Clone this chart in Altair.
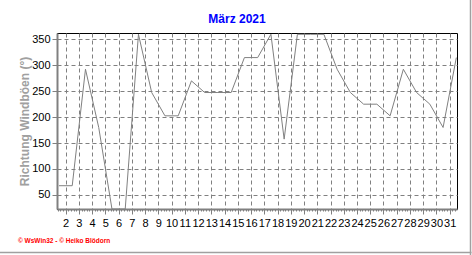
import altair as alt
import pandas as pd

# --- data ---
day_pos = [1.5, 2.5, 3.5, 4.5, 5.5, 6.5, 7.5, 8.5, 9.5, 10.5, 11.5, 12.5, 13.5, 14.5, 15.5,
           16.5, 17.5, 18.5, 19.5, 20.5, 21.5, 22.5, 23.5, 24.5, 25.5, 26.5, 27.5, 28.5,
           29.5, 30.5, 31.5]
direction = [67.5, 67.5, 292.5, 180, 22.5, 22.5, 360, 247.5, 202.5, 202.5, 270, 247.5, 247.5,
             247.5, 315, 315, 360, 157.5, 360, 360, 360, 292.5, 247.5, 225, 225, 202.5, 292.5,
             247.5, 225, 180, 315]
day_labels = [2, 3, 4, 5, 6, 7, 8, 9, 10, 11, 12, 13, 14, 15, 16, 17, 18, 19, 20, 21, 22, 23,
              24, 25, 26, 27, 28, 29, 30, 31]
y_labels = [50, 100, 150, 200, 250, 300, 350]

title_text = "März 2021"
y_title = "Richtung Windböen  (°)"
footer_text = "© WsWin32  -  © Heiko Blödorn"

df = pd.DataFrame({"day": day_pos, "dir": direction})

# minor tick positions (5 per day) including the labelled days
minor_vals = sorted(set([round(1.4 + 0.2 * i, 1) for i in range(151)] + day_labels))

is_major = "abs(datum.value - round(datum.value)) < 0.01"

W, H = 400, 176
FONT = "Liberation Sans"
GRAY = "#808080"

x_enc = alt.X(
    "day:Q",
    scale=alt.Scale(domain=[1.35, 31.55], nice=False, zero=False),
    axis=alt.Axis(
        values=minor_vals,
        labelExpr=f"{is_major} ? format(datum.value, 'd') : ''",
        labelOverlap=False,
        labelFont=FONT, labelFontSize=11, labelColor="black", labelPadding=3,
        tickSize={"condition": {"test": is_major, "value": 5}, "value": 2},
        tickColor=GRAY,
        grid=True, gridColor=GRAY, gridDash=[4, 3], gridWidth=1,
        gridOpacity={"condition": {"test": is_major, "value": 1}, "value": 0},
        domainColor=GRAY, domainWidth=2,
        title=None,
    ),
)
y_enc = alt.Y(
    "dir:Q",
    scale=alt.Scale(domain=[22.5, 362.5], nice=False, zero=False),
    axis=alt.Axis(
        values=y_labels,
        labelFont=FONT, labelFontSize=11, labelColor="black", labelPadding=2,
        tickSize=5, tickColor=GRAY,
        grid=True, gridColor=GRAY, gridDash=[4, 3], gridWidth=1,
        domainColor=GRAY, domainWidth=2,
        title=y_title, titleFont=FONT, titleFontSize=12, titleFontWeight="bold",
        titleColor="#a0a0a0", titlePadding=0,
    ),
)

line = alt.Chart(df).mark_line(color=GRAY, strokeWidth=1, clip=True).encode(x=x_enc, y=y_enc)

one = pd.DataFrame({"k": [0]})

title = alt.Chart(one).mark_text(
    text=title_text, font=FONT, fontSize=12, fontWeight="bold", color="#0000ff",
    align="center", baseline="middle",
).encode(x=alt.value(180), y=alt.value(-14))

footer = alt.Chart(one).mark_text(
    text=footer_text, font=FONT, fontSize=6.5, fontWeight="bold", color="#ff0000",
    align="left", baseline="middle",
).encode(x=alt.value(-39), y=alt.value(208))

frame_right = alt.Chart(one).mark_rule(color="#a0a0a0", strokeWidth=1.5).encode(
    x=alt.value(413.5), y=alt.value(-33), y2=alt.value(222))
frame_bottom = alt.Chart(one).mark_rule(color="#a0a0a0", strokeWidth=1.5).encode(
    x=alt.value(-57), x2=alt.value(414.5), y=alt.value(219.5))

chart = alt.layer(line, title, footer, frame_right, frame_bottom).properties(
    width=W, height=H,
    autosize=alt.AutoSizeParams(type="none"),
    padding={"left": 57, "top": 33, "right": 15, "bottom": 46},
    background="white",
).configure_view(stroke="black", strokeWidth=1)

chart.save("out.html", embed_options={"renderer": "svg", "actions": False})
